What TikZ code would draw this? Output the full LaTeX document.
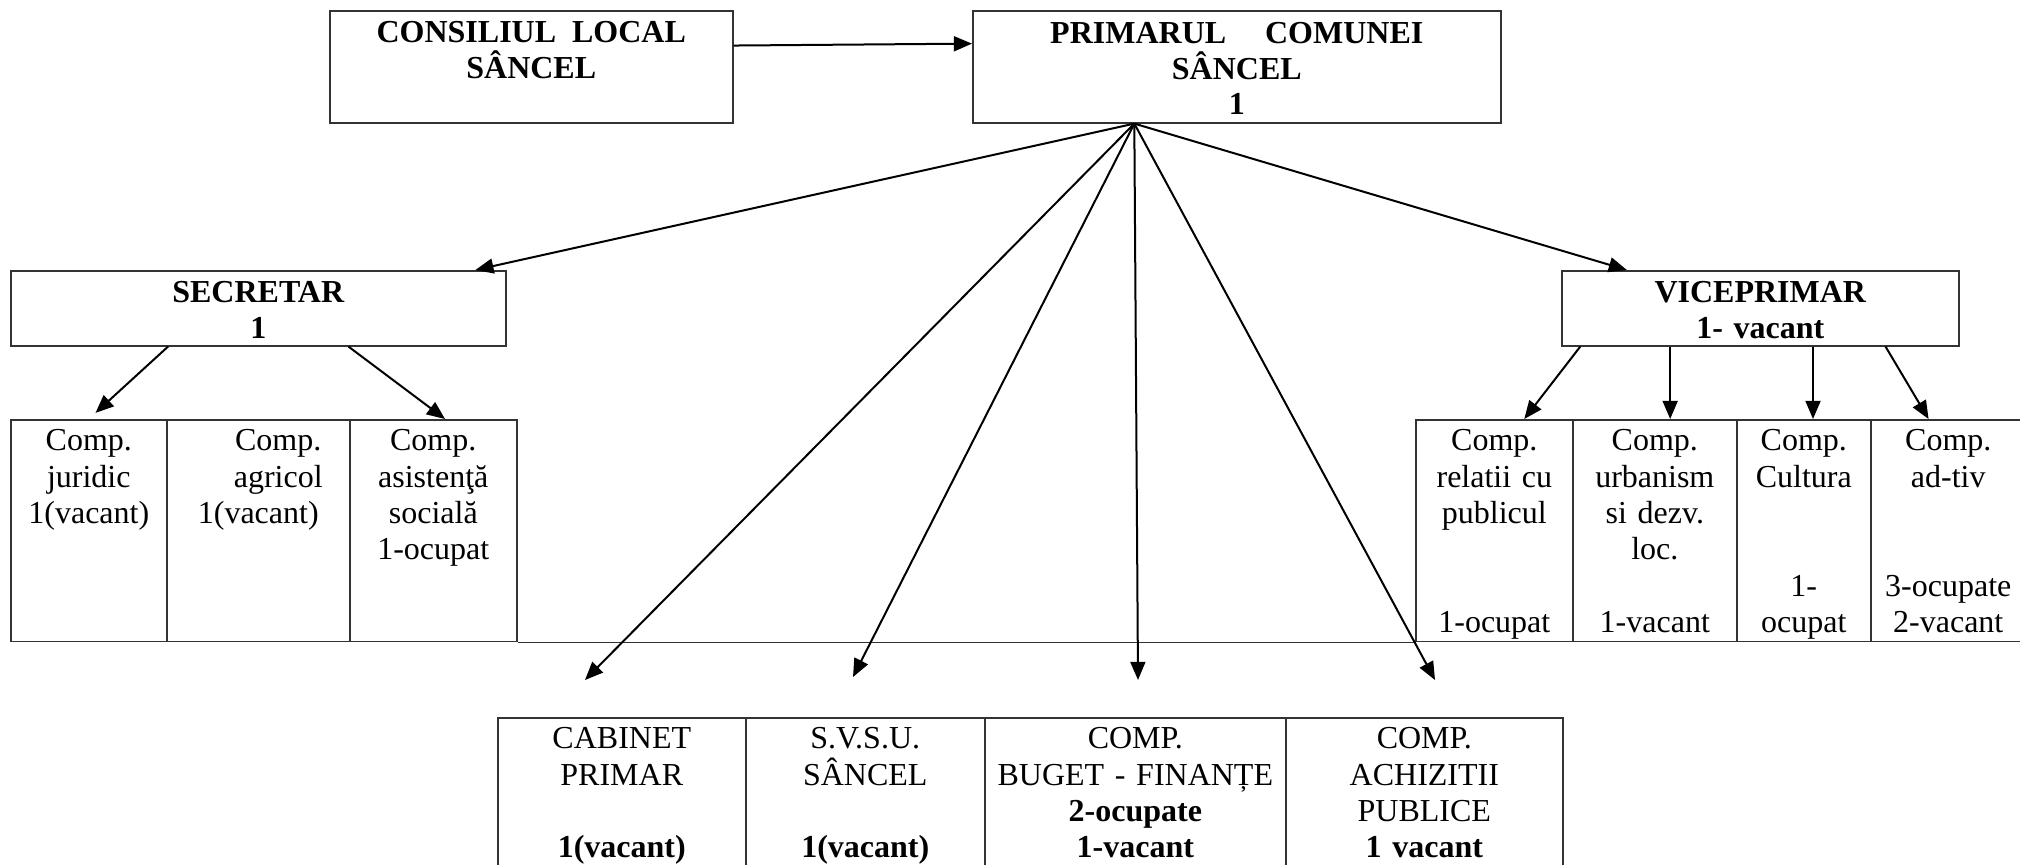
\documentclass[tikz,border=0pt]{standalone}
\usepackage{fontspec}
\setmainfont{Liberation Serif}
\usetikzlibrary{arrows.meta}

\begin{document}
\begin{tikzpicture}[x=0.375pt, y=-0.375pt,
    casuta/.style={draw=black!80, line width=0.6pt, anchor=north west, inner xsep=2pt, inner ysep=0pt, align=center},
    sus/.style={casuta, font=\fontsize{12}{13.2}\selectfont\bfseries, text height=12pt},
    celula/.style={casuta, font=\fontsize{12}{13.65}\selectfont, text height=11.6pt},
    sageata/.style={-{Triangle[length=6.8pt,width=5.6pt]}, line width=0.75pt}]
            \useasboundingbox (0,0) rectangle (2020,864);
            % Conducere
            \node at (329,10) (consiliu) [sus, text width=147.1pt, text depth=30pt] {CONSILIUL\hspace{6pt}LOCAL\\SÂNCEL};
            \node at (972,10) (primar) [sus, text width=194pt, text height=12.4pt, text depth=29.6pt] {PRIMARUL\hspace{14.6pt}COMUNEI\\SÂNCEL\\1};
            \node at (10,270) (secretar) [sus, text width=181.6pt, text depth=16.1pt] {SECRETAR\\1};
            \node at (1561,270) (viceprimar) [sus, text width=144.9pt, text depth=16.1pt] {VICEPRIMAR\\1- vacant};
            % Compartimente secretar
            \node at (10,419) (juridic) [celula, text width=54.5pt, text depth=71.6pt] {Comp.\\juridic\\1(vacant)};
            \node at (166,419) (agricol) [celula, text width=64.6pt, text depth=71.6pt] {\hspace*{15pt}Comp.\\\hspace*{15pt}agricol\\1(vacant)};
            \node at (349,419) (asistenta) [celula, text width=58.6pt, text depth=71.6pt] {Comp.\\asistenţă\\socială\\1-ocupat};
            % Compartimente viceprimar
            \node at (1415,419) (relatii) [celula, text width=54.9pt, text depth=71.6pt] {Comp.\\relatii cu\\publicul\\[27.3pt]1-ocupat};
            \node at (1572,419) (urbanism) [celula, text width=57.5pt, text depth=71.6pt] {Comp.\\urbanism\\si dezv.\\loc.\\[13.65pt]1-vacant};
            \node at (1736,419) (cultura) [celula, text width=46.25pt, text depth=71.6pt] {Comp.\\Cultura\\[27.3pt]1-\\ocupat};
            \node at (1870,419) (adtiv) [celula, text width=54.1pt, text depth=71.6pt] {Comp.\\ad-tiv\\[27.3pt]3-ocupate\\2-vacant};
            \draw[draw=black!80, line width=0.6pt] (asistenta.south east) -- (relatii.south west);
            % Subordonate primar
            \node at (497,717) (cabinet) [celula, text width=89pt, text depth=48.4pt] {CABINET\\PRIMAR\\[13.65pt]\textbf{1(vacant)}};
            \node at (745,717) (svsu) [celula, text width=85.6pt, text depth=48.4pt] {S.V.S.U.\\SÂNCEL\\[13.65pt]\textbf{1(vacant)}};
            \node at (984,717) (buget) [celula, text width=108.9pt, text depth=48.4pt] {COMP.\\BUGET - FINANȚE\\\textbf{2-ocupate}\\\textbf{1-vacant}};
            \node at (1285,717) (achizitii) [celula, text width=99.9pt, text depth=48.4pt] {COMP.\\ACHIZITII\\PUBLICE\\\textbf{1 vacant}};
            \coordinate (spreCabinet) at (585,680);
            \coordinate (spreSvsu) at (853,677);
            \coordinate (spreBuget) at (1138,680);
            \coordinate (spreAchizitii) at (1435,680);
            % Sageti
            \draw[sageata] (consiliu.6) -- (primar.175);
            \draw[sageata] (primar.209) -- (secretar.10);
            \draw[sageata] (primar.209) -- (viceprimar.164);
            \draw[sageata] (primar.209) -- (spreCabinet);
            \draw[sageata] (primar.209) -- (spreSvsu);
            \draw[sageata] (primar.209) -- (spreBuget);
            \draw[sageata] (primar.209) -- (spreAchizitii);
            \draw[sageata, shorten >=3.4pt] (secretar.203) -- (juridic.north);
            \draw[sageata] (secretar.337) -- (asistenta.84);
            \draw[sageata] (viceprimar.192) -- (relatii.75);
            \draw[sageata] (viceprimar.203) -- (viceprimar.203 |- urbanism.north);
            \draw[sageata] (viceprimar.324) -- (viceprimar.324 |- cultura.north);
            \draw[sageata] (viceprimar.343) -- (adtiv.100);
        \end{tikzpicture}
\end{document}
